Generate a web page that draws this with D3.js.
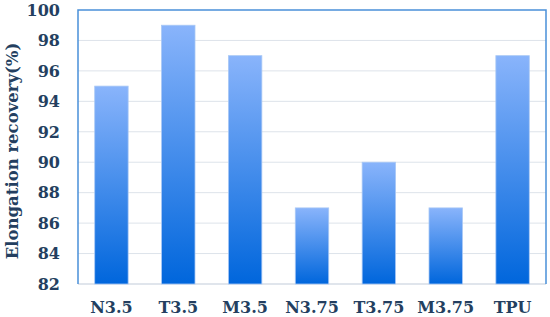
<!DOCTYPE html>
<html><head><meta charset="utf-8">
<script src="https://cdn.jsdelivr.net/npm/d3@7"></script>
<style>body{margin:0;background:#fff;}svg{display:block;}</style>
</head><body>
<script>
const categories = ["N3.5","T3.5","M3.5","N3.75","T3.75","M3.75","TPU"];
const values = [95, 99, 97, 87, 90, 87, 97];
const yTicks = [82,84,86,88,90,92,94,96,98,100];
const yTitle = "Elongation recovery(%)";

const W = 550, H = 317;
const m = {left: 78, right: 4, top: 10, bottom: 33};
const svg = d3.select("body").append("svg").attr("width", W).attr("height", H);
const defs = svg.append("defs");
const g = defs.append("linearGradient").attr("id","bg").attr("x1",0).attr("y1",0).attr("x2",0).attr("y2",1);
g.append("stop").attr("offset","0%").attr("stop-color","#89b4fb");
g.append("stop").attr("offset","100%").attr("stop-color","#0066dc");

const x = d3.scaleBand().domain(categories).range([m.left, W - m.right]).paddingInner(0.5).paddingOuter(0.25);
const y = d3.scaleLinear().domain([82,100]).range([H - m.bottom, m.top]);

const font = "'DejaVu Serif', serif";
const tc = "#243f60";

svg.append("g").selectAll("line").data(yTicks.slice(1,-1)).join("line")
  .attr("x1", m.left).attr("x2", W - m.right)
  .attr("y1", d => y(d)).attr("y2", d => y(d))
  .attr("stroke", "#dde3ea").attr("stroke-width", 1);

svg.append("line").attr("x1", m.left).attr("x2", W - m.right)
  .attr("y1", y(82)).attr("y2", y(82)).attr("stroke", "#d6dde6").attr("stroke-width", 1.5);

svg.append("g").selectAll("rect").data(values).join("rect")
  .attr("x", (d,i) => x(categories[i]))
  .attr("y", d => y(d))
  .attr("width", x.bandwidth())
  .attr("height", d => y(82) - y(d))
  .attr("fill", "url(#bg)")
  .attr("stroke", "#a9c8f5").attr("stroke-width", 0.8);

svg.append("path")
  .attr("d", `M${m.left},${y(82)}V${m.top}H${W - m.right}V${y(82)}`)
  .attr("fill","none").attr("stroke","#4a90d9").attr("stroke-width",1.5);

svg.append("g").selectAll("text").data(yTicks).join("text")
  .attr("x", 60).attr("y", d => y(d)).attr("dy","0.36em")
  .attr("text-anchor","end")
  .attr("font-family", font).attr("font-weight","bold").attr("font-size", 16)
  .attr("fill", tc).text(d => d);

svg.append("g").selectAll("text").data(categories).join("text")
  .attr("x", d => x(d) + x.bandwidth()/2).attr("y", 313)
  .attr("text-anchor","middle")
  .attr("font-family", font).attr("font-weight","bold").attr("font-size", 16)
  .attr("fill", tc).text(d => d);

svg.append("text")
  .attr("transform", `translate(18,151) rotate(-90)`)
  .attr("text-anchor","middle")
  .attr("font-family", font).attr("font-weight","bold").attr("font-size", 16.5)
  .attr("fill", tc).text(yTitle);
</script>
</body></html>
